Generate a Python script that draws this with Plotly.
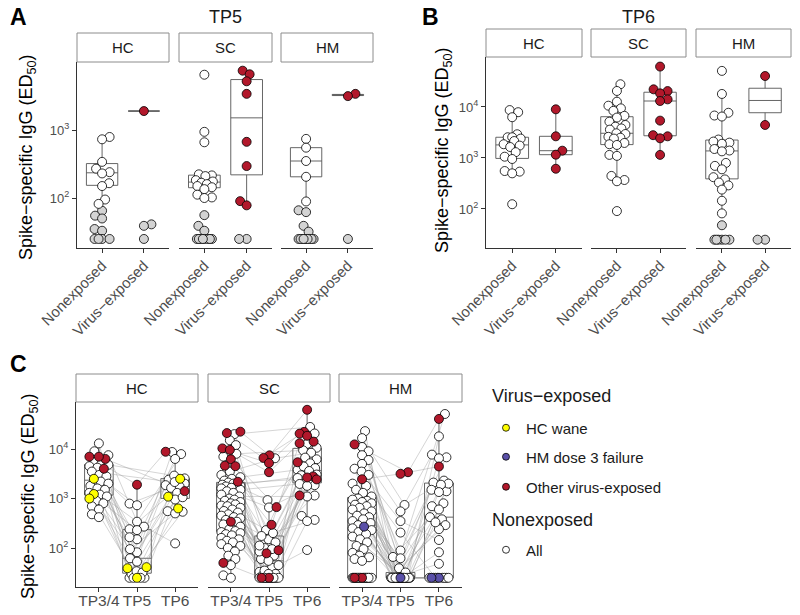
import numpy as np
import plotly.graph_objects as go

W, H = 800, 615
LOD = 69
RED = '#B2182B'; YEL = '#FFFF00'; BLU = '#5A50A8'; GRY = '#D3D3D3'
FONT = 'Arial, Liberation Sans, sans-serif'
TXT = '#4D4D4D'; AXC = '#333333'

cohorts = ['HC', 'SC', 'HM']
exposure_labels = ['Nonexposed', 'Virus−exposed']
tp_labels = ['TP3/4', 'TP5', 'TP6']

# ---------------- Panel A (TP5) ----------------
a_hc_non = [790, 730, 340, 270, 240, 230, 165, 150, 95, 82, 65, 55, 50, 35, 33, 25, 25, 25, 25]
a_hc_vir = [1900, 41, 39, 25]
a_sc_non = [6500, 940, 660, 223, 215, 210, 183, 175, 168, 160, 150, 144, 135, 112, 102, 100,
            56, 39, 33, 25, 25, 25, 25, 25, 25, 25, 25]
a_sc_vir = [7450, 6600, 5200, 3400, 670, 295, 90, 78, 25, 25]
a_hm_non = [740, 550, 350, 205, 89, 66, 62, 39, 32, 25, 25, 25, 25, 25, 25, 25, 25, 25, 25]
a_hm_vir = [3400, 3150, 25]

# ---------------- Panel B (TP6) ----------------
b_hc_non = [8700, 7900, 6300, 2920, 2550, 2550, 2400, 2150, 1860, 1750, 1640, 1300, 1060, 955, 555, 540, 500, 124]
b_hc_vir = [9000, 2660, 1390, 1160, 615]
b_sc_non = [27900, 20600, 12700, 10600, 9400, 8400, 6700, 6200, 5150, 4440, 4110, 3800, 3600, 3050, 2950,
            2600, 2500, 2400, 1970, 1860, 1800, 1150, 1100, 445, 370, 350, 91]
b_sc_vir = [62000, 22200, 20500, 18500, 14100, 13100, 5400, 2800, 2660, 2430, 1150]
b_hm_non = [51000, 18000, 7700, 6800, 6500, 2300, 2100, 2000, 1900, 1500, 1400, 1350, 800, 700, 600, 420,
            380, 330, 290, 240, 145, 82, 48, 25, 25, 25, 25, 25, 25]
b_hm_vir = [40500, 4440, 25, 25]

# ---------------- Panel C (per participant, TP3/4 -> TP5 -> TP6) ----------------
# group: O = other virus-exposed, Y = HC wane, B = HM dose 3 failure, N = nonexposed
hc_group = ['O', 'O', 'O', 'O', 'Y', 'Y', 'Y'] + ['N'] * 25
hc_tp34 = [7000, 6300, 7000, 4000, 2500, 1230, 1000, 13000, 9000, 7500, 5500, 5000, 4800, 4500, 4200, 3500,
           3000, 2800, 2200, 2000, 1800, 1600, 1500, 1300, 1200, 1100, 900, 800, 700, 600, 480, 420]
hc_tp5 = [1900, None, None, None, 39, 41, 25, 62, 25, 340, 150, 30, None, 790, 82, None, 240, 25, 53, 730,
          25, 165, 34, 95, 270, 32, 25, 230]
hc_tp6 = [8800, 1410, None, None, 2500, 1090, 630, 2400, 8700, 7900, 6300, 1860, 2900, 1640, 2550, 2000,
          1750, 1300, 955, 2150, 555, 1060, 540, 500, 124]

sc_group = ['O'] * 11 + ['N'] * 62
sc_tp34 = [22400, 21000, 10300, 9600, 6200, 4600, 4500, 2180, 340, 50, None,
           20000, 15000, 12000, 8000, 7000, 3500, 3000, 2700, 2500, 2300, 2100, 2000, 1900, 1800, 1750,
           1700, 1650, 1600, 1500, 1400, 1300, 1200, 1100, 1000, 950, 900, 850, 800, 760, 720, 700, 650,
           600, 560, 520, 480, 450, 420, 400, 370, 340, 300, 270, 240, 220, 210, 200, 190, 180, 160, 150,
           140, 130, 120, 110, 100, 85, 70, 60, 45, 28, 25]
sc_tp5 = [7450, 6600, 5200, 3400, 670, 295, 90, 78, 25, 25, None,
          None, 230, 25, None, 100, 6500, 25, None, 60, 25, 930, None, 40, 25, None, 150, 25, 33, None, 660,
          25, 85, None, 30, 175, 25, 45, None, 25, 200, 28, None, 25, 112, 25, None, 35, 70, None, 25, 130,
          30, None, 25, 95, None, 55, 25]
sc_tp6 = [62000, 22200, 20500, 18500, 14100, 13100, 5400, 2800, 2660, 2430, 1150,
          27900, 12700, 20600, 9400, 10600, 8400, 6700, 3800, 6200, 5150, 4440, 2500, 4110, 3600, 3050,
          2950, 2600, 2400, 1970, 1860, 1800, 1150, 1100, 445, 370, 350, 91]

hm_group = ['O', 'O', 'O', 'O', 'B', 'B'] + ['N'] * 62
hm_tp34 = [12400, 2450, 25, 25, 270, None,
           23000, 16600, 11000, 9000, 7500, 6000, 5000, 4000, 3500, 3000, 2000, 1800, 1500, 1300, 1100,
           1000, 950, 900, 850, 800, 750, 700, 650, 600, 550, 500, 450, 420, 380, 350, 320, 290, 250, 230,
           210, 190, 170, 150, 130, 110, 95, 80, 70, 65, 60, 55,
           25, 25, 25, 25, 25, 25, 25, 25, 25, 25, 25, 25, 25, 25, 25, 25]
hm_tp5 = [3400, 3150, None, None, 25, None,
          25, 740, 25, 25, 550, 25, 89, 25, 350, 25, 25, 205, 25, 66, 25, 25, 62, 25, 25, 39, 25, 25, 32,
          25, 25, 25, 25, 25, 25, 25, 25, 25, 25, 25, 25, 25, 25, 25]
hm_tp6 = [40500, 4440, None, None, 25, 25,
          51000, 2300, 18000, 380, 7700, 25, 6800, 2100, 145, 6500, 1400, 25, 2000, 420, 1900, 82, 1500, 25,
          1350, 290, 800, 25, 700, 48, 600, 240, 330, 25, 25, 25, 25]

legend_labels = ['HC wane', 'HM dose 3 failure', 'Other virus-exposed', 'All']

# ---------------- geometry (pixels) ----------------
A_X = [(77, 169), (179, 272), (281, 373)]; A_Y = (62, 248); A_STRIP = (33, 62)
B_X = [(486, 582), (591, 686), (696, 791)]; B_Y = (57, 248); B_STRIP = (29, 57)
C_X = [(76, 198), (208, 330), (339, 462)]; C_Y = (402, 587); C_STRIP = (374, 402)


def px(x):
    return x / W


def py(y):
    return 1 - y / H


def pad(lst, n):
    return list(lst) + [None] * (n - len(lst))


def swarm(vals, ppd, ppu, d=7.5, cap=8.5):
    vals = np.asarray(vals, float)
    ypx = np.log10(vals) * ppd
    order = np.argsort(ypx, kind='stable')
    placed = []
    off = np.zeros(len(vals))
    steps = np.arange(0, cap + 0.01, 0.5)
    for n, i in enumerate(order):
        y = ypx[i]
        found = None; best = 0.0; bestscore = -1
        for s in steps:
            cands = [0.0] if s == 0 else ([s, -s] if n % 2 == 0 else [-s, s])
            for c in cands:
                md = min((np.hypot(c - a, y - b) for a, b in placed), default=np.inf)
                if md >= d:
                    found = c
                    break
                if md > bestscore + 1e-9:
                    bestscore = md; best = c
            if found is not None:
                break
        xo = found if found is not None else best
        placed.append((xo, y))
        off[i] = xo / ppu
    return off


def box_stats(vals):
    lv = np.log10(np.asarray(vals, float))
    q1, med, q3 = np.percentile(lv, [25, 50, 75])
    iqr = q3 - q1
    lo = lv[lv >= q1 - 1.5 * iqr].min()
    hi = lv[lv <= q3 + 1.5 * iqr].max()
    return [10 ** v for v in (lo, q1, med, q3, hi)]


fig = go.Figure()
axes = {}
shapes = []
annots = []


def add_box(xid, yid, pos, vals):
    lo, q1, med, q3, hi = box_stats(vals)
    fig.add_trace(go.Box(x=[pos], q1=[q1], median=[med], q3=[q3], lowerfence=[lo], upperfence=[hi],
                         width=0.75, whiskerwidth=0, boxpoints=False,
                         line=dict(color='#555555', width=0.9), fillcolor='rgba(0,0,0,0)',
                         showlegend=False, hoverinfo='skip', xaxis=xid, yaxis=yid))


def add_pts(xid, yid, xs, ys, color, size=9):
    if len(xs) == 0:
        return
    fig.add_trace(go.Scatter(x=xs, y=ys, mode='markers', showlegend=False, hoverinfo='skip',
                             marker=dict(size=size, color=color, line=dict(color='black', width=0.8)),
                             xaxis=xid, yaxis=yid))


def setup(k, xr, ypx, yrange, xrange, tvx, ttx, first, ytv, angle, xfs, strip, standoff):
    sfx = '' if k == 1 else str(k)
    xid, yid = 'x' + sfx, 'y' + sfx
    axes['xaxis' + sfx] = dict(domain=[px(xr[0]), px(xr[1])], anchor=yid, range=xrange, showline=True,
                               linecolor=AXC, linewidth=1.1, ticks='outside', ticklen=4, tickcolor=AXC,
                               tickwidth=1, tickvals=tvx, ticktext=ttx, tickangle=angle,
                               ticklabelstandoff=standoff,
                               tickfont=dict(size=xfs, color=TXT, family=FONT), showgrid=False,
                               zeroline=False, automargin=False)
    yd = dict(domain=[py(ypx[1]), py(ypx[0])], anchor=xid, type='log', range=yrange, showgrid=False,
              zeroline=False, automargin=False)
    if first:
        yd.update(showline=True, linecolor=AXC, linewidth=1.1, ticks='outside', ticklen=4, tickcolor=AXC,
                  tickwidth=1, tickvals=ytv,
                  ticktext=['10<sup>%d</sup>' % round(np.log10(v)) for v in ytv],
                  tickfont=dict(size=13, color=TXT, family=FONT))
    else:
        yd.update(showline=False, showticklabels=False, ticks='')
    axes['yaxis' + sfx] = yd
    # strip
    shapes.append(dict(type='rect', xref='paper', yref='paper', x0=px(xr[0]), x1=px(xr[1]),
                       y0=py(strip[1]), y1=py(strip[0]), line=dict(color='#8C8C8C', width=1),
                       fillcolor='white', layer='below'))
    # limit of detection line
    shapes.append(dict(type='line', xref=xid + ' domain', yref=yid, x0=0, x1=1,
                       y0=np.log10(LOD), y1=np.log10(LOD), line=dict(color=AXC, width=1.1)))
    return xid, yid


# ---------- Panels A and B ----------
ab = [
    (A_X, A_Y, A_STRIP, [1.265, 4.0], [100, 1000], 1,
     [(a_hc_non, a_hc_vir), (a_sc_non, a_sc_vir), (a_hm_non, a_hm_vir)]),
    (B_X, B_Y, B_STRIP, [1.235, 4.98], [100, 1000, 10000], 4,
     [(b_hc_non, b_hc_vir), (b_sc_non, b_sc_vir), (b_hm_non, b_hm_vir)]),
]
for XS, YP, ST, yrange, ytv, k0, data in ab:
    for j in range(3):
        k = k0 + j
        xrange = [0.4, 2.6]
        xid, yid = setup(k, XS[j], YP, yrange, xrange, [1, 2], exposure_labels, j == 0, ytv, -45, 15, ST, -2)
        ppd = (YP[1] - YP[0]) / (yrange[1] - yrange[0])
        ppu = (XS[j][1] - XS[j][0]) / (xrange[1] - xrange[0])
        for g, vals in enumerate(data[j]):
            pos = g + 1
            v = np.asarray(vals, float)
            above = v > LOD
            if above.any():
                add_box(xid, yid, pos, v[above])
            xs = pos + swarm(v, ppd, ppu, 7.5, 8.5)
            add_pts(xid, yid, xs[~above], v[~above], GRY)
            add_pts(xid, yid, xs[above], v[above], RED if g == 1 else 'white')
        annots.append(dict(text=cohorts[j], x=px((XS[j][0] + XS[j][1]) / 2), y=py((ST[0] + ST[1]) / 2),
                           font=dict(size=15, color='#1A1A1A')))

# ---------- Panel C ----------
c_data = [(hc_group, hc_tp34, hc_tp5, hc_tp6), (sc_group, sc_tp34, sc_tp5, sc_tp6),
          (hm_group, hm_tp34, hm_tp5, hm_tp6)]
c_yrange = [1.212, 4.95]
for j in range(3):
    k = 7 + j
    xrange = [0.4, 3.6]
    xid, yid = setup(k, C_X[j], C_Y, c_yrange, xrange, [1, 2, 3], tp_labels, j == 0,
                     [100, 1000, 10000], 0, 15.5, C_STRIP, -5)
    ppd = (C_Y[1] - C_Y[0]) / (c_yrange[1] - c_yrange[0])
    ppu = (C_X[j][1] - C_X[j][0]) / (xrange[1] - xrange[0])
    grp, t34, t5, t6 = c_data[j]
    n = len(grp)
    tps = [pad(t34, n), pad(t5, n), pad(t6, n)]
    xs = [[None] * n for _ in range(3)]
    for t in range(3):
        idx = [i for i in range(n) if tps[t][i] is not None]
        vals = [tps[t][i] for i in idx]
        add_box(xid, yid, t + 1, vals)
        off = swarm(vals, ppd, ppu, 7.5, 9.5)
        for i, o in zip(idx, off):
            xs[t][i] = t + 1 + o
    lx, ly = [], []
    for i in range(n):
        pts = [(xs[t][i], tps[t][i]) for t in range(3) if tps[t][i] is not None]
        if len(pts) >= 2:
            for a, b in pts:
                lx.append(a); ly.append(b)
            lx.append(None); ly.append(None)
    fig.add_trace(go.Scatter(x=lx, y=ly, mode='lines', line=dict(color='rgba(150,150,150,0.5)', width=0.8),
                             showlegend=False, hoverinfo='skip', xaxis=xid, yaxis=yid))
    for g, col in [('N', 'white'), ('O', RED), ('Y', YEL), ('B', BLU)]:
        gx, gy = [], []
        for t in range(3):
            for i in range(n):
                if grp[i] == g and tps[t][i] is not None:
                    gx.append(xs[t][i]); gy.append(tps[t][i])
        add_pts(xid, yid, gx, gy, col)
    annots.append(dict(text=cohorts[j], x=px((C_X[j][0] + C_X[j][1]) / 2), y=py(sum(C_STRIP) / 2),
                       font=dict(size=15, color='#1A1A1A')))

# ---------- legend (one legend per entry for exact spacing) ----------
leg_colors = [YEL, BLU, RED, 'white']
leg_y = [428, 457, 487, 550]
leg_names = ['legend', 'legend2', 'legend3', 'legend4']
legends = {}
for lab, col, ly_, ln in zip(legend_labels, leg_colors, leg_y, leg_names):
    fig.add_trace(go.Scatter(x=[None], y=[None], mode='markers', name=lab, legend=ln, showlegend=True,
                             marker=dict(size=7, color=col, line=dict(color='black', width=0.8)),
                             xaxis='x9', yaxis='y9'))
    legends[ln] = dict(x=px(486), y=py(ly_), xanchor='left', yanchor='middle', itemsizing='trace',
                       bgcolor='rgba(0,0,0,0)', font=dict(size=15, color='#1A1A1A', family=FONT))

annots += [
    dict(text='Virus−exposed', x=px(490), y=py(396), xanchor='left', font=dict(size=18, color='#1A1A1A')),
    dict(text='Nonexposed', x=px(490), y=py(520), xanchor='left', font=dict(size=18, color='#1A1A1A')),
    dict(text='<b>A</b>', x=px(18), y=py(17), font=dict(size=23, color='black')),
    dict(text='<b>B</b>', x=px(430), y=py(17), font=dict(size=23, color='black')),
    dict(text='<b>C</b>', x=px(18), y=py(364), font=dict(size=23, color='black')),
    dict(text='TP5', x=px(225), y=py(17), font=dict(size=18, color='#1A1A1A')),
    dict(text='TP6', x=px(638), y=py(17), font=dict(size=18, color='#1A1A1A')),
    dict(text='Spike−specific IgG (ED<sub>50</sub>)', x=px(27), y=py(157), textangle=-90,
         font=dict(size=18, color='black')),
    dict(text='Spike−specific IgG (ED<sub>50</sub>)', x=px(443), y=py(150), textangle=-90,
         font=dict(size=18, color='black')),
    dict(text='Spike−specific IgG (ED<sub>50</sub>)', x=px(29), y=py(496), textangle=-90,
         font=dict(size=18, color='black')),
]
for a in annots:
    a.setdefault('xref', 'paper'); a.setdefault('yref', 'paper'); a.setdefault('showarrow', False)
    a.setdefault('xanchor', 'center'); a.setdefault('yanchor', 'middle')

fig.update_layout(width=W, height=H, margin=dict(l=0, r=0, t=0, b=0, autoexpand=False),
                  plot_bgcolor='white',
                  paper_bgcolor='white', font=dict(family=FONT), boxmode='overlay', showlegend=True,
                  shapes=shapes, annotations=annots, **axes, **legends)
fig.write_html('out.html', config={'displayModeBar': False},
               post_script="document.body.style.margin='0px';document.body.style.overflow='hidden';")
